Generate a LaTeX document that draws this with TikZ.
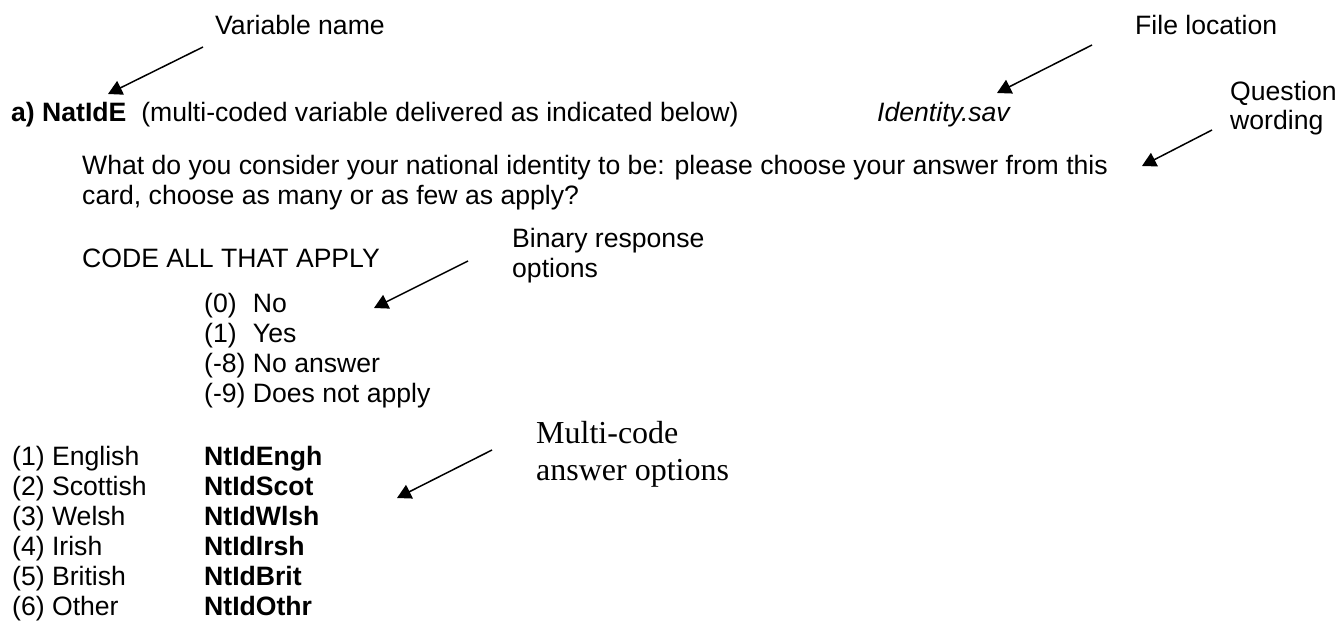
\documentclass[tikz,border=0pt]{standalone}
\usepackage{fontspec}
\setmainfont{Liberation Sans}
\newfontfamily\timesfont{Liberation Serif}
\usetikzlibrary{arrows.meta}
\begin{document}
\begin{tikzpicture}[x=1pt,y=-1pt,
  txt/.style={anchor=base west, inner sep=0pt, font=\fontsize{26.6}{30}\selectfont},
  serif/.style={anchor=base west, inner sep=0pt, font=\timesfont\fontsize{32}{38}\selectfont},
  pointer/.style={line width=1.5pt, -{Triangle[length=14pt,width=15pt]}}]
\useasboundingbox (0,0) rectangle (1343,624);
\fill[white] (0,0) rectangle (1343,624);

% annotations
\node[txt] (varname) at (215,34) {Variable name};
\node[txt] (fileloc) at (1135,34) {File location};
\node[txt] (qw1) at (1230,100) {Question};
\node[txt] (qw2) at (1230,129) {wording};
\node[txt] (bin1) at (512,247) {Binary response};
\node[txt] (bin2) at (512,277) {options};
\node[serif] (mc1) at (536,443) {Multi-code};
\node[serif] (mc2) at (536,480) {answer options};

% main text
\node[txt] (title) at (11,121) {\textbf{a) NatIdE}\ \ (multi-coded variable delivered as indicated below)};
\node[txt] (file) at (877,121) {\itshape Identity.sav};
\node[txt] (q1) at (82,174) {What do you consider your national identity to be: please choose your answer from this};
\node[txt] (q2) at (82,204) {card, choose as many or as few as apply?};
\node[txt] (code) at (82,267) {CODE ALL THAT APPLY};

\node[txt] (b0) at (204,312) {\makebox[48.8pt][l]{(0)}No};
\node[txt] (b1) at (204,342) {\makebox[48.8pt][l]{(1)}Yes};
\node[txt] (b8) at (204,372) {(-8) No answer};
\node[txt] (b9) at (204,402) {(-9) Does not apply};

\node[txt] (o1) at (12,465) {(1) English};
\node[txt] (o2) at (12,495) {(2) Scottish};
\node[txt] (o3) at (12,525) {(3) Welsh};
\node[txt] (o4) at (12,555) {(4) Irish};
\node[txt] (o5) at (12,585) {(5) British};
\node[txt] (o6) at (12,615) {(6) Other};
\node[txt] (v1) at (204,465) {\textbf{NtIdEngh}};
\node[txt] (v2) at (204,495) {\textbf{NtIdScot}};
\node[txt] (v3) at (204,525) {\textbf{NtIdWlsh}};
\node[txt] (v4) at (204,555) {\textbf{NtIdIrsh}};
\node[txt] (v5) at (204,585) {\textbf{NtIdBrit}};
\node[txt] (v6) at (204,615) {\textbf{NtIdOthr}};

% arrows
\coordinate (a1s) at (203,47);  \coordinate (a1e) at (108,94);
\coordinate (a2s) at (1092,45); \coordinate (a2e) at (997,93);
\coordinate (a3s) at (1212,130); \coordinate (a3e) at (1142,166);
\coordinate (a4s) at (468,261); \coordinate (a4e) at (374,308);
\coordinate (a5s) at (492,450); \coordinate (a5e) at (397,498);
\draw[pointer] (a1s) -- (a1e);
\draw[pointer] (a2s) -- (a2e);
\draw[pointer] (a3s) -- (a3e);
\draw[pointer] (a4s) -- (a4e);
\draw[pointer] (a5s) -- (a5e);
\end{tikzpicture}
\end{document}
